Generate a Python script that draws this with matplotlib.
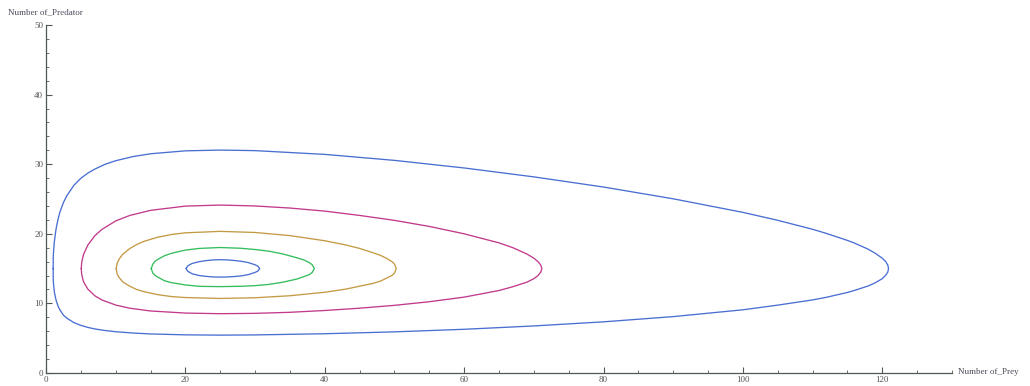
import matplotlib.pyplot as plt
from matplotlib.ticker import MultipleLocator

# predator-prey orbits around the equilibrium (25, 15); prey on x, predator on y
# each orbit: prey values with the upper and lower predator counts at that prey value
prey_1 = [1.025, 1.03, 1.05, 1.1, 1.2, 1.35, 1.5, 1.75, 2, 2.5, 3, 4, 5, 6, 7, 8.5, 10, 12.5, 15, 20, 25,
          30, 40, 50, 60, 70, 80, 90, 100, 105, 110, 112, 115, 116, 118, 119, 120, 120.5, 120.8, 120.9]
upper_1 = [15.0, 16.5, 17.0, 17.78, 18.9, 20.1, 21.05, 22.2, 23.15, 24.5, 25.5, 26.97, 27.98, 28.72, 29.3,
           30.0, 30.5, 31.1, 31.5, 31.92, 32.03, 31.95, 31.41, 30.55, 29.46, 28.18, 26.72, 25.03, 23.08,
           21.94, 20.65, 20.05, 19.05, 18.67, 17.78, 17.2, 16.5, 16.0, 15.5, 15.0]
lower_1 = [15.0, 13.55, 13.05, 12.51, 11.6, 10.85, 10.25, 9.55, 9.05, 8.3, 7.87, 7.24, 6.84, 6.55, 6.33,
           6.1, 5.93, 5.74, 5.61, 5.48, 5.44, 5.47, 5.64, 5.91, 6.28, 6.76, 7.35, 8.1, 9.08, 9.75, 10.5,
           10.88, 11.57, 11.86, 12.51, 12.97, 13.55, 14.05, 14.5, 15.0]

prey_2 = [5.06, 5.1, 5.2, 5.35, 5.5, 6, 7, 8, 10, 12, 15, 20, 25, 30, 35, 40, 45, 50, 55, 60, 65, 67,
          69, 70, 70.6, 71, 71.15]
upper_2 = [15.0, 15.7, 16.3, 16.9, 17.3, 18.38, 19.72, 20.62, 21.85, 22.63, 23.37, 23.98, 24.13, 24.0,
           23.7, 23.26, 22.64, 21.93, 21.06, 20.0, 18.7, 18.0, 17.1, 16.5, 16.0, 15.5, 15.0]
lower_2 = [15.0, 14.3, 13.8, 13.2, 12.9, 12.05, 11.1, 10.5, 9.76, 9.31, 8.91, 8.61, 8.52, 8.57, 8.72,
           8.98, 9.31, 9.72, 10.24, 10.9, 11.85, 12.4, 13.05, 13.55, 14.0, 14.5, 15.0]

prey_3 = [10.07, 10.2, 10.5, 11, 12, 13, 14, 16, 18, 20, 25, 30, 35, 40, 43, 45, 47, 48, 49, 49.7,
          50, 50.26]
upper_3 = [15.0, 15.75, 16.38, 17.05, 17.87, 18.45, 18.9, 19.5, 19.9, 20.14, 20.35, 20.19, 19.74, 19.0,
           18.4, 17.9, 17.25, 16.9, 16.4, 15.95, 15.65, 15.0]
lower_3 = [15.0, 14.25, 13.7, 13.1, 12.48, 12.0, 11.7, 11.26, 10.98, 10.84, 10.71, 10.81, 11.1, 11.6,
           12.05, 12.47, 12.9, 13.2, 13.7, 14.05, 14.35, 15.0]

prey_4 = [15.1, 15.3, 15.6, 16, 17, 18, 20, 22, 25, 28, 30, 32, 34, 36, 37, 37.8, 38.2, 38.5]
upper_4 = [15.0, 15.6, 16.0, 16.3, 16.85, 17.2, 17.66, 17.9, 18.03, 17.92, 17.74, 17.5, 17.1, 16.55,
           16.25, 15.85, 15.55, 15.0]
lower_4 = [15.0, 14.4, 14.05, 13.8, 13.25, 12.98, 12.65, 12.45, 12.41, 12.46, 12.55, 12.73, 13.05, 13.5,
           13.85, 14.15, 14.45, 15.0]

prey_5 = [20.12, 20.3, 20.6, 21, 22, 23, 24, 25, 26, 27, 28, 29, 30, 30.4, 30.66]
upper_5 = [15.0, 15.35, 15.55, 15.75, 16.0, 16.15, 16.25, 16.28, 16.25, 16.17, 16.05, 15.87, 15.55,
           15.35, 15.0]
lower_5 = [15.0, 14.65, 14.45, 14.25, 14.0, 13.88, 13.8, 13.78, 13.8, 13.86, 13.95, 14.13, 14.45,
           14.65, 15.0]

orbits = [(prey_1, upper_1, lower_1), (prey_2, upper_2, lower_2), (prey_3, upper_3, lower_3),
          (prey_4, upper_4, lower_4), (prey_5, upper_5, lower_5)]
colors = ['#4a6fd2', '#c23a8c', '#c49a44', '#34bd5c', '#4a6fd2']

fig = plt.figure(figsize=(10.3, 3.86), dpi=100)
ax = fig.add_axes([0.0447, 0.0337, 0.8795, 0.9015])

for (xs, up, lo), c in zip(orbits, colors):
    # trace the top half left to right, then the bottom half back
    ax.plot(list(xs) + list(xs[::-1]), list(up) + list(lo[::-1]), color=c, lw=0.95,
            solid_joinstyle='round')

ax.set_xlim(0, 130)
ax.set_ylim(0, 50)
ax.spines['top'].set_visible(False)
ax.spines['right'].set_visible(False)
for s in ['left', 'bottom']:
    ax.spines[s].set_color('#4f5a55')
    ax.spines[s].set_linewidth(0.9)

ax.xaxis.set_major_locator(MultipleLocator(20))
ax.xaxis.set_minor_locator(MultipleLocator(5))
ax.yaxis.set_major_locator(MultipleLocator(10))
ax.yaxis.set_minor_locator(MultipleLocator(2))
ax.tick_params(which='major', direction='in', length=4, width=0.8, color='#4f5a55',
               labelsize=6.5, labelcolor='#555555', pad=2)
ax.tick_params(which='minor', direction='in', length=2, width=0.6, color='#4f5a55')
for lab in ax.get_xticklabels() + ax.get_yticklabels():
    lab.set_family('Liberation Serif')

fig.text(0.008, 0.967, 'Number of_Predator', fontsize=6.5, family='Liberation Serif',
         color='#4a4a5a', va='center', ha='left')
fig.text(0.930, 0.036, 'Number of_Prey', fontsize=6.5, family='Liberation Serif',
         color='#4a4a5a', va='center', ha='left')

fig.savefig('out.png', dpi=100)
